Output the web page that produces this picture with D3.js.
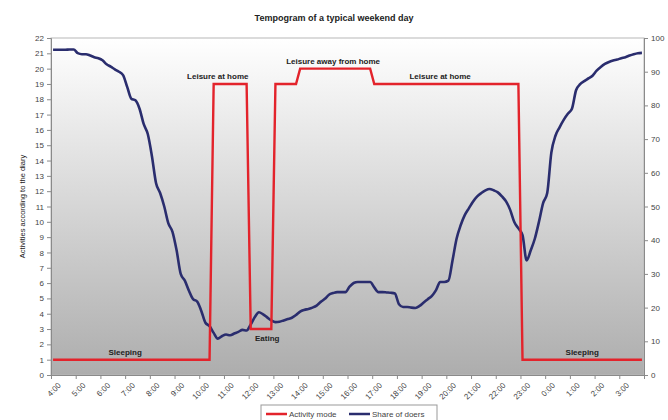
<!DOCTYPE html>
<html>
<head>
<script src="https://d3js.org/d3.v7.min.js"></script>
<style>
  body { margin: 0; background: #fff; }
  text { font-family: Arial, "Liberation Sans", sans-serif; }
</style>
</head>
<body>
<div id="chart"></div>
<script>
// hour labels, 4:00 .. 3:00 (one tick per hour, data every 10 minutes)
var hourLabels = ["4:00","5:00","6:00","7:00","8:00","9:00","10:00","11:00","12:00","13:00","14:00","15:00",
  "16:00","17:00","18:00","19:00","20:00","21:00","22:00","23:00","0:00","1:00","2:00","3:00"];

// activity mode (left axis), one value per 10 minutes, two hours per row
var activityMode = [
  1,1,1,1,1,1,1,1,1,1,1,1,
  1,1,1,1,1,1,1,1,1,1,1,1,
  1,1,1,1,1,1,1,1,1,1,1,1,
  1,1,1,19,19,19,19,19,19,19,19,19,
  3,3,3,3,3,3,19,19,19,19,19,19,
  20,20,20,20,20,20,20,20,20,20,20,20,
  20,20,20,20,20,20,19,19,19,19,19,19,
  19,19,19,19,19,19,19,19,19,19,19,19,
  19,19,19,19,19,19,19,19,19,19,19,19,
  19,19,19,19,19,19,1,1,1,1,1,1,
  1,1,1,1,1,1,1,1,1,1,1,1,
  1,1,1,1,1,1,1,1,1,1,1,1
];

// share of doers in % (right axis)
var shareOfDoers = [
  96.5,96.5,96.5,96.5,96.6,96.6,95.5,95.2,95.2,94.8,94.3,94.0,
  93.4,92.2,91.5,90.7,90.0,89.0,85.5,82.0,81.5,79.0,74.5,71.5,
  65.0,57.0,54.0,50.0,45.0,42.5,37.0,30.0,28.0,25.0,22.5,21.8,
  19.0,15.5,14.5,12.5,10.8,11.5,12.0,11.8,12.3,12.8,13.4,13.2,
  15.0,17.2,18.6,18.0,17.1,16.2,15.7,15.8,16.2,16.6,17.0,17.8,
  18.8,19.3,19.6,20.0,20.6,21.7,22.6,23.8,24.3,24.6,24.6,24.6,
  26.2,27.3,27.6,27.6,27.6,27.6,26.0,24.6,24.6,24.5,24.4,24.2,
  21.0,20.2,20.2,20.0,19.9,20.5,21.5,22.5,23.5,25.2,27.6,27.6,
  28.0,34.0,40.5,44.5,47.5,49.5,51.5,53.0,54.0,54.8,55.2,54.8,
  54.2,53.0,51.5,49.0,45.4,43.5,41.5,34.0,37.0,40.5,45.5,51.0,
  54.0,66.0,71.0,73.5,75.7,77.5,79.0,84.5,86.3,87.2,88.0,88.8,
  90.3,91.4,92.3,92.9,93.3,93.6,94.0,94.3,94.8,95.2,95.5,95.6
];

var modeLabels = [
  {text: "Sleeping", slot: 17.5, value: 1, dy: -5},
  {text: "Leisure at home", slot: 40, value: 19, dy: -5},
  {text: "Eating", slot: 52, value: 3, dy: 12},
  {text: "Leisure away from home", slot: 68, value: 20, dy: -5},
  {text: "Leisure at home", slot: 94, value: 19, dy: -5},
  {text: "Sleeping", slot: 128.5, value: 1, dy: -5}
];

var W = 668, H = 420;
var margin = {top: 38, right: 24, bottom: 45, left: 51};
var iw = W - margin.left - margin.right,
    ih = H - margin.top - margin.bottom;

var svg = d3.select("#chart").append("svg")
    .attr("width", W).attr("height", H);

var defs = svg.append("defs");
var grad = defs.append("linearGradient").attr("id", "bg")
    .attr("x1", 0).attr("y1", 0).attr("x2", 0).attr("y2", 1);
grad.append("stop").attr("offset", "0%").attr("stop-color", "#ffffff");
grad.append("stop").attr("offset", "100%").attr("stop-color", "#adadad");

svg.append("text")
    .attr("x", 334).attr("y", 21)
    .attr("text-anchor", "middle")
    .attr("font-size", 9).attr("font-weight", "bold")
    .attr("fill", "#222")
    .text("Tempogram of a typical weekend day");

var g = svg.append("g").attr("transform", "translate(" + margin.left + "," + margin.top + ")");

var x = d3.scaleLinear().domain([0, 24]).range([0, iw]);
var yL = d3.scaleLinear().domain([0, 22]).range([ih, 0]);
var yR = d3.scaleLinear().domain([0, 100]).range([ih, 0]);
var slotX = function(i) { return x((i + 0.5) / 6); };

g.append("rect")
    .attr("width", iw).attr("height", ih)
    .attr("fill", "url(#bg)")
    .attr("stroke", "#b8b8b8").attr("stroke-width", 1);

// axes
var xAxis = g.append("g").attr("transform", "translate(0," + ih + ")")
    .call(d3.axisBottom(x).tickValues(d3.range(0, 25)).tickSize(4)
      .tickFormat(function(d) { return hourLabels[d] || ""; }));
xAxis.selectAll("text")
    .attr("text-anchor", "end")
    .attr("transform", "translate(3,4) rotate(-45)")
    .attr("dy", "0.35em");

var leftAxis = g.append("g")
    .call(d3.axisLeft(yL).tickValues(d3.range(0, 23)).tickSize(4).tickFormat(d3.format("d")));

var rightAxis = g.append("g").attr("transform", "translate(" + iw + ",0)")
    .call(d3.axisRight(yR).tickValues(d3.range(0, 101, 10)).tickSize(4));

[xAxis, leftAxis, rightAxis].forEach(function(a) {
  a.select(".domain").attr("stroke", "#8a8a8a");
  a.selectAll(".tick line").attr("stroke", "#8a8a8a");
  a.selectAll("text").attr("font-size", 8).attr("fill", "#444")
    .attr("font-family", "Arial, 'Liberation Sans', sans-serif");
});

svg.append("text")
    .attr("transform", "translate(25," + (margin.top + ih / 2) + ") rotate(-90)")
    .attr("text-anchor", "middle")
    .attr("font-size", 7.5).attr("fill", "#222")
    .text("Activities according to the diary");

// lines
var modeLine = d3.line().x(function(d, i) { return slotX(i); }).y(function(d) { return yL(d); });
var shareLine = d3.line().x(function(d, i) { return slotX(i); }).y(function(d) { return yR(d); })
    .curve(d3.curveMonotoneX);

g.append("path").datum(shareOfDoers)
    .attr("d", shareLine)
    .attr("fill", "none").attr("stroke", "#2a2d6e").attr("stroke-width", 2.6)
    .attr("stroke-linejoin", "round");

g.append("path").datum(activityMode)
    .attr("d", modeLine)
    .attr("fill", "none").attr("stroke", "#e3232b").attr("stroke-width", 2.4);

g.selectAll(".mlab").data(modeLabels).enter().append("text")
    .attr("class", "mlab")
    .attr("x", function(d) { return slotX(d.slot); })
    .attr("y", function(d) { return yL(d.value) + d.dy; })
    .attr("text-anchor", "middle")
    .attr("font-size", 8).attr("font-weight", "bold").attr("fill", "#222")
    .text(function(d) { return d.text; });

// legend
var legendItems = [
  {name: "Activity mode", color: "#e3232b"},
  {name: "Share of doers", color: "#2a2d6e"}
];
var lg = svg.append("g").attr("transform", "translate(261,405)");
lg.append("rect").attr("width", 176).attr("height", 16)
    .attr("fill", "#fff").attr("stroke", "#999");
var li = lg.selectAll(".li").data(legendItems).enter().append("g")
    .attr("transform", function(d, i) { return "translate(" + (5 + i * 83) + ",9)"; });
li.append("line").attr("x1", 0).attr("x2", 21)
    .attr("stroke", function(d) { return d.color; }).attr("stroke-width", 2.5);
li.append("text").attr("x", 23).attr("y", 3)
    .attr("font-size", 8).attr("fill", "#444")
    .text(function(d) { return d.name; });
</script>
</body>
</html>
